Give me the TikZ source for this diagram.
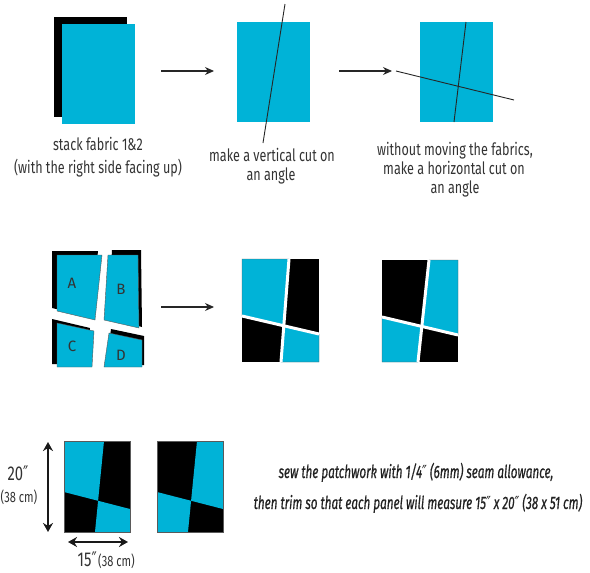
\documentclass[tikz,border=0pt]{standalone}
\usepackage{fontspec}
\setmainfont{Fira Sans}[FakeStretch=0.74]
\newfontfamily\plainfont{Fira Sans}
\newfontfamily\capfont{Fira Sans}[FakeStretch=0.65, FakeBold=0.6]
\newfontfamily\symfont{DejaVu Sans}[FakeStretch=0.7]
\newcommand{\dprm}{{\symfont ″}}
\usetikzlibrary{arrows.meta}
\definecolor{fab}{HTML}{00B3D7}
\definecolor{txt}{HTML}{333333}
\definecolor{captxt}{HTML}{222222}
\definecolor{edge}{HTML}{5A5A5A}
\begin{document}
\begin{tikzpicture}[x=1pt,y=-1pt,
  lbl/.style={text=txt, font=\fontsize{17}{20}\selectfont, inner sep=0pt, anchor=base},
  piece/.style={text=txt, font=\plainfont\fontsize{15}{17}\selectfont, inner sep=0pt},
  captext/.style={text=captxt, font=\capfont\itshape\fontsize{18}{22}\selectfont, inner sep=0pt, anchor=base},
  dimbig/.style={text=txt, font=\fontsize{20}{22}\selectfont, inner sep=0pt, anchor=base},
  dimsmall/.style={text=txt, font=\fontsize{15}{17}\selectfont, inner sep=0pt, anchor=base},
  cutline/.style={draw=black!85, line width=0.9pt},
  arr/.style={draw=black!85, line width=1.1pt, -{Stealth[length=9pt,width=8pt]}},
  dimarr/.style={draw=black!90, line width=2pt, {Stealth[length=9pt,width=10pt]}-{Stealth[length=9pt,width=10pt]}},
  gap/.style={draw=white, line width=3pt},
  cyanpiece/.style={fill=fab, draw=edge, line width=0.4pt}]
\useasboundingbox (0,0) rectangle (590,573);

% ---------- top row ----------
\fill[black] (54,17) rectangle (127,117);
\fill[fab] (62,24) rectangle (135,124);
\node[lbl] (t1a) at (98,150) {stack fabric 1\&2};
\node[lbl] (t1b) at (98,173) {(with the right side facing up)};

\coordinate (a1s) at (161,71);
\coordinate (a1e) at (214,71);
\draw[arr] (a1s) -- (a1e);

\fill[fab] (237,22) rectangle (310,122);
\coordinate (v2t) at (285,4);
\coordinate (v2b) at (263,143);
\draw[cutline] (v2t) -- (v2b);
\node[lbl] (t2a) at (272,161) {make a vertical cut on};
\node[lbl] (t2b) at (271,180) {an angle};

\coordinate (a2s) at (339,71);
\coordinate (a2e) at (392,71);
\draw[arr] (a2s) -- (a2e);

\fill[fab] (420,22) rectangle (493,122);
\coordinate (v3t) at (466,22);
\coordinate (v3b) at (454,122);
\coordinate (h3l) at (396,71);
\coordinate (h3r) at (514,100);
\draw[cutline] (v3t) -- (v3b);
\draw[cutline] (h3l) -- (h3r);
\node[lbl] (t3a) at (455,155) {without moving the fabrics,};
\node[lbl] (t3b) at (454,174) {make a horizontal cut on};
\node[lbl] (t3c) at (455,193) {an angle};

% ---------- middle row: cut pieces ----------
\fill[black] (52,251) -- (98,251) -- (91,317) -- (52,308) -- cycle;
\draw[cyanpiece] (57,255) -- (102,255) -- (95,320) -- (57,311) -- cycle;
\fill[black] (112,250) -- (141,250) -- (142,327) -- (108,318) -- cycle;
\draw[cyanpiece] (108,255) -- (138,255) -- (139,328) -- (104,320) -- cycle;
\fill[black] (52,319) -- (90,328) -- (88,364) -- (52,364) -- cycle;
\draw[cyanpiece] (57,323) -- (94,331) -- (92,367) -- (57,367) -- cycle;
\fill[black] (111,329) -- (144,336) -- (144,365) -- (106,365) -- cycle;
\draw[cyanpiece] (109,333) -- (142,340) -- (142,367) -- (104,367) -- cycle;
\node[piece] (pA) at (72,283) {A};
\node[piece] (pB) at (121,289) {B};
\node[piece] (pC) at (72,346) {C};
\node[piece] (pD) at (121,355) {D};

\coordinate (a3s) at (161,307);
\coordinate (a3e) at (214,307);
\draw[arr] (a3s) -- (a3e);

% panel 4
\fill[black] (242,259) rectangle (319,362);
\coordinate (v4t) at (289,259);
\coordinate (v4b) at (281,362);
\coordinate (h4l) at (242,316);
\coordinate (h4r) at (319,334);
\coordinate (x4) at (intersection of v4t--v4b and h4l--h4r);
\draw[cyanpiece] (242,259) -- (v4t) -- (x4) -- (h4l) -- cycle;
\draw[cyanpiece] (x4) -- (h4r) -- (319,362) -- (v4b) -- cycle;
\draw[gap] (v4t) -- (v4b);
\draw[gap] (h4l) -- (h4r);

% panel 5
\fill[black] (382,260) rectangle (458,362);
\coordinate (v5t) at (429,260);
\coordinate (v5b) at (418,362);
\coordinate (h5l) at (382,317);
\coordinate (h5r) at (458,335);
\coordinate (x5) at (intersection of v5t--v5b and h5l--h5r);
\draw[cyanpiece] (v5t) -- (458,260) -- (h5r) -- (x5) -- cycle;
\draw[cyanpiece] (h5l) -- (x5) -- (v5b) -- (382,362) -- cycle;
\draw[gap] (v5t) -- (v5b);
\draw[gap] (h5l) -- (h5r);

% ---------- bottom row: sewn panels ----------
% panel 6
\fill[black] (64,441) rectangle (130,532);
\coordinate (v6t) at (104,441);
\coordinate (v6b) at (95,532);
\coordinate (h6l) at (64,492);
\coordinate (h6r) at (130,509);
\coordinate (x6) at (intersection of v6t--v6b and h6l--h6r);
\fill[fab] (64,441) -- (v6t) -- (x6) -- (h6l) -- cycle;
\fill[fab] (x6) -- (h6r) -- (130,532) -- (v6b) -- cycle;
\draw[edge, line width=0.5pt] (64,441) rectangle (130,532);

% panel 7
\fill[black] (157,441) rectangle (223,532);
\coordinate (v7t) at (197,441);
\coordinate (v7b) at (188,532);
\coordinate (h7l) at (157,492);
\coordinate (h7r) at (223,509);
\coordinate (x7) at (intersection of v7t--v7b and h7l--h7r);
\fill[fab] (v7t) -- (223,441) -- (h7r) -- (x7) -- cycle;
\fill[fab] (h7l) -- (x7) -- (v7b) -- (157,532) -- cycle;
\draw[edge, line width=0.5pt] (157,441) rectangle (223,532);

% dimensions
\coordinate (d1t) at (48,442);
\coordinate (d1b) at (48,532);
\draw[dimarr] (d1t) -- (d1b);
\node[dimbig] (dh1) at (18,480) {20\dprm};
\node[dimsmall] (dh2) at (19,502) {(38 cm)};

\coordinate (d2l) at (68,542);
\coordinate (d2r) at (128,542);
\draw[dimarr] (d2l) -- (d2r);
\node[dimbig, anchor=base east] (dw1) at (97,566) {15\dprm};
\node[dimsmall, anchor=base west] (dw2) at (98,566) {(38 cm)};

% caption
\node[captext] (c1) at (416,478) {sew the patchwork with 1/4\dprm\ (6mm) seam allowance,};
\node[captext] (c2) at (418,509) {then trim so that each panel will measure 15\dprm\ x 20\dprm\ (38 x 51 cm)};
\end{tikzpicture}
\end{document}
